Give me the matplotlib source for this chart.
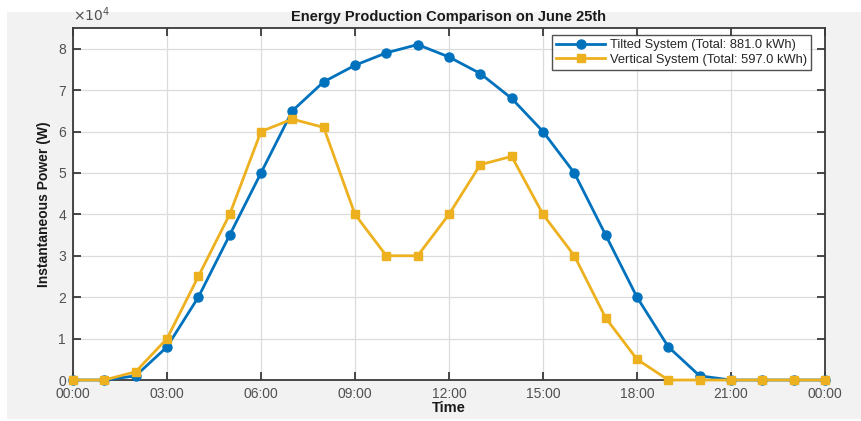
import matplotlib
matplotlib.use('Agg')
import matplotlib.pyplot as plt
from matplotlib.patches import Rectangle
from matplotlib.ticker import FuncFormatter, MultipleLocator
import numpy as np

plt.rcParams['font.family'] = ['Liberation Sans', 'DejaVu Sans']

# hourly samples, 00:00 to 00:00 next day
hours = list(range(25))
tilted_w = [0, 0, 1000, 8000, 20000, 35000, 50000, 65000, 72000, 76000, 79000, 81000, 78000,
            74000, 68000, 60000, 50000, 35000, 20000, 8000, 1000, 0, 0, 0, 0]
vertical_w = [0, 0, 2000, 10000, 25000, 40000, 60000, 63000, 61000, 40000, 30000, 30000, 40000,
              52000, 54000, 40000, 30000, 15000, 5000, 0, 0, 0, 0, 0, 0]

tilted_kwh = sum(tilted_w) / 1000
vertical_kwh = sum(vertical_w) / 1000

blue = '#0072BD'
yellow = '#EDB120'
tick_grey = '#505050'

fig = plt.figure(figsize=(8.62, 4.21), dpi=100, facecolor='white')
fig.patches.append(Rectangle((7 / 862, 0.005), 1 - 7 / 862, 1 - 12 / 421 - 0.005,
                             transform=fig.transFigure, facecolor='#f2f2f2',
                             edgecolor='none', zorder=-10))

ax = fig.add_axes([73 / 862, 41 / 421, 752 / 862, 352 / 421])
ax.set_facecolor('white')

ax.plot(hours, tilted_w, '-o', color=blue, lw=2, ms=6.5,
        label=f'Tilted System (Total: {tilted_kwh:.1f} kWh)', clip_on=False, zorder=3)
ax.plot(hours, vertical_w, '-s', color=yellow, lw=2, ms=5.5,
        label=f'Vertical System (Total: {vertical_kwh:.1f} kWh)', clip_on=False, zorder=4)

ax.set_xlim(0, 24)
ax.set_ylim(0, 85000)
ax.xaxis.set_major_locator(MultipleLocator(3))
ax.yaxis.set_major_locator(MultipleLocator(10000))
ax.xaxis.set_major_formatter(FuncFormatter(lambda v, p: '%02d:00' % (int(v) % 24)))
ax.yaxis.set_major_formatter(FuncFormatter(lambda v, p: '%d' % round(v / 1e4)))

ax.grid(True, color='#dcdcdc', lw=0.9)
ax.set_axisbelow(True)
ax.tick_params(direction='in', top=True, right=True, length=6, width=1.3,
               colors='#3a3a3a', labelcolor=tick_grey, labelsize=10)
ax.tick_params(axis='x', pad=5)
ax.tick_params(axis='y', pad=5)
for s in ax.spines.values():
    s.set_color('#3a3a3a')
    s.set_linewidth(1.3)

ax.set_title('Energy Production Comparison on June 25th', fontsize=10.5, fontweight='bold',
             color='#1a1a1a', pad=5)
ax.set_xlabel('Time', fontsize=10.5, fontweight='bold', color='#1a1a1a', labelpad=0)
ax.set_ylabel('Instantaneous Power (W)', fontsize=10, fontweight='bold', color='#1a1a1a',
              labelpad=5)
ax.text(0.0, 1.01, r'$\times10^{4}$', transform=ax.transAxes, fontsize=10,
        color=tick_grey, ha='left', va='bottom')

leg = ax.legend(loc='upper right', bbox_to_anchor=(0.987, 0.99), fontsize=9.3,
                frameon=True, fancybox=False, borderpad=0.3, handlelength=3.8,
                handletextpad=0.4, labelspacing=0.2, borderaxespad=0.3)
leg.get_frame().set_edgecolor('#262626')
leg.get_frame().set_linewidth(1.0)
for t in leg.get_texts():
    t.set_color('#262626')

fig.savefig('out.png', dpi=100, facecolor=fig.get_facecolor())
